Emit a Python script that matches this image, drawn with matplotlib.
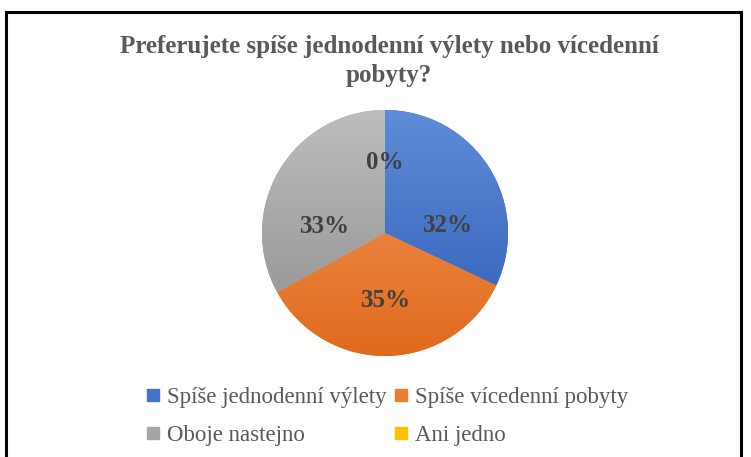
import numpy as np
import matplotlib
matplotlib.use("Agg")
import matplotlib.pyplot as plt
from matplotlib.colors import LinearSegmentedColormap
from matplotlib.lines import Line2D

# --- data ---
title = "Preferujete spíše jednodenní výlety nebo vícedenní\npobyty?"
categories = ["Spíše jednodenní výlety", "Spíše vícedenní pobyty",
              "Oboje nastejno", "Ani jedno"]
shares = [32, 35, 33, 0]

# --- style ---
base_colors = ["#4472C4", "#ED7D31", "#A5A5A5", "#FFC000"]
grad_top = ["#5F8CD8", "#F39B5E", "#BDBDBD", "#FFCB33"]
grad_bottom = ["#2E5CB6", "#E06A1C", "#8E8E8E", "#F0B000"]
# label positions in pie radius units (Excel "best fit")
label_pos = [(0.51, 0.06), (0.01, -0.55), (-0.49, 0.05), (0.0, 0.57)]

plt.rcParams["font.family"] = ["Liberation Serif", "DejaVu Serif"]

W, H = 751, 457
fig = plt.figure(figsize=(W / 100, H / 100), dpi=100)
fig.patch.set_facecolor("white")

# outer frame (left, top, right edges)
fig.add_artist(plt.Line2D([6 / W, 6 / W], [0, 1 - 12 / H], color="black",
                          lw=2.2, transform=fig.transFigure))
fig.add_artist(plt.Line2D([6 / W, 741 / W], [1 - 12 / H, 1 - 12 / H],
                          color="black", lw=2.2, transform=fig.transFigure))
fig.add_artist(plt.Line2D([741 / W, 741 / W], [0, 1 - 12 / H], color="black",
                          lw=2.2, transform=fig.transFigure))

# pie axes: centre (385, 233) px, radius 123 px
cx, cy, r = 385, 233, 123
ax = fig.add_axes([(cx - r) / W, (H - cy - r) / H, 2 * r / W, 2 * r / H])
wedges, _ = ax.pie(shares, colors=base_colors, startangle=90,
                   counterclock=False, radius=1.0,
                   wedgeprops=dict(linewidth=0))
ax.set_aspect("equal")
ax.axis("off")

# vertical gradient fill clipped to each wedge
grad = np.linspace(1, 0, 256).reshape(-1, 1)
for w, top, bot in zip(wedges, grad_top, grad_bottom):
    cmap = LinearSegmentedColormap.from_list("g", [bot, top])
    im = ax.imshow(grad, cmap=cmap, extent=[-1, 1, -1, 1],
                   aspect="auto", zorder=w.get_zorder(), vmin=0, vmax=1)
    im.set_clip_path(w)
ax.set_xlim(-1, 1)
ax.set_ylim(-1, 1)

for (x, y), v in zip(label_pos, shares):
    ax.text(x, y, f"{v}%", ha="center", va="center", fontsize=18,
            fontweight="bold", color="#404040", zorder=5)

fig.text(389 / W, 1 - 61 / H, title, ha="center", va="center",
         fontsize=18, fontweight="bold", color="#595959", linespacing=1.32)

handles = [Line2D([], [], marker="s", linestyle="none", markersize=8,
                  markerfacecolor=c, markeredgecolor=c) for c in base_colors]
# legend fills row by row: reorder for matplotlib's column-first filling
order = [0, 2, 1, 3]
fig.legend([handles[i] for i in order], [categories[i] for i in order],
           ncol=2, loc="upper left",
           bbox_to_anchor=(146 / W, 1 - 387 / H), frameon=False,
           fontsize=16.5, labelcolor="#595959", handlelength=0.6,
           handletextpad=0.3, columnspacing=0.35, labelspacing=0.75,
           borderpad=0, borderaxespad=0)

fig.savefig("out.png", dpi=100)
